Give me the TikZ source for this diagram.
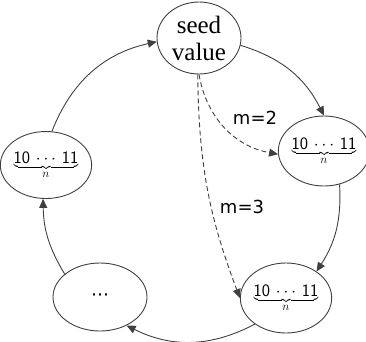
\documentclass[tikz,border=0pt]{standalone}
\usepackage{fontspec}
\setmainfont{Liberation Serif}
\newfontfamily\lblfont{DejaVu Sans}
\usetikzlibrary{shapes.geometric,arrows.meta}
\newcommand\bitstr{$\underbrace{\mathsf{10}\,\cdots\,\mathsf{11}}_{n}$}
\begin{document}
\begin{tikzpicture}[x=1pt,y=-1pt,
  state/.style={ellipse,draw=black!75,line width=0.9pt,inner sep=0pt},
  bitsnode/.style={state,font=\fontsize{17.5}{19}\selectfont},
  conn/.style={draw=black!75,line width=0.9pt,-{Triangle[length=9pt,width=8pt]}},
  dconn/.style={conn,dash pattern=on 5pt off 3pt},
  lbl/.style={font=\lblfont\fontsize{18}{20}\selectfont,inner sep=0pt}]
\useasboundingbox (0,0) rectangle (366,341);
\node[state,minimum width=84pt,minimum height=72pt,align=center,
  font=\fontsize{25}{27}\selectfont] (seed) at (199,38) {seed\\value};
\node[bitsnode,minimum width=76pt,minimum height=70pt] (r1) at (324,151) {\bitstr};
\node[bitsnode,minimum width=82pt,minimum height=70pt] (r2) at (286,298) {\bitstr};
\node[state,minimum width=94pt,minimum height=68pt,font=\lblfont\fontsize{18}{20}\selectfont] (dots) at (100,297) {⋯};
\node[bitsnode,minimum width=82pt,minimum height=67pt] (lft) at (46,165) {\bitstr};
\path[conn] (seed.-10) to[bend left=23] (r1.90);
\path[conn] (r1.-65) to[bend left=18] (r2.41);
\path[conn] (r2.220) to[bend left=27] (dots.-47);
\path[conn] (dots.147) to[bend left=15] (lft.-95);
\path[conn] (lft.80) to[bend left=28] (seed.185);
\path[dconn] (seed.-90) to[bend right=35] (r1.184);
\path[dconn] (seed.-92) to[bend right=10] (r2.180);
\node[lbl] (m2) at (255,118) {m=2};
\node[lbl] (m3) at (242,207) {m=3};
\end{tikzpicture}
\end{document}
